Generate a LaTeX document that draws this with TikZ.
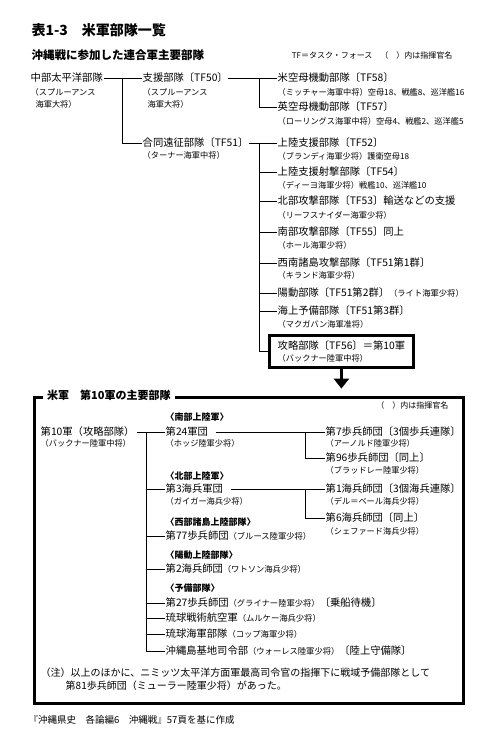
\documentclass[tikz,border=0pt]{standalone}
\usepackage{fontspec}
\setmainfont{Noto Sans CJK JP}
\usetikzlibrary{arrows.meta,positioning,fit,calc}

\newcommand{\cmdrtext}[1]{{\fontsize{8.3}{10}\selectfont #1}}

\begin{document}
\begin{tikzpicture}[
    x=1pt, y=-1pt,
    >=Stealth,
    unit/.style={anchor=west, inner sep=0.5pt, font=\fontsize{10.3}{12}\selectfont},
    cmdr/.style={anchor=west, inner sep=0.5pt, align=left, font=\fontsize{8.2}{12}\selectfont},
    grp/.style={anchor=west, inner sep=0.5pt, font=\fontsize{9}{11}\selectfont\bfseries},
    note/.style={anchor=west, inner sep=0.5pt, font=\fontsize{10}{12}\selectfont},
    ln/.style={line width=0.7pt},
    frame/.style={line width=3pt}
]
\useasboundingbox (0,0) rectangle (495,744);
\fill[white] (0,0) rectangle (495,744);

% ---- Headings ----
\node[anchor=west, font=\fontsize{14}{16}\selectfont\bfseries] (title) at (28,30) {表1-3　米軍部隊一覧};
\node[anchor=west, font=\fontsize{11.5}{13}\selectfont\bfseries] (subtitle) at (28,55) {沖縄戦に参加した連合軍主要部隊};
\node[anchor=east, font=\fontsize{8}{10}\selectfont] (tfnote) at (456,55) {TF＝タスク・フォース　（　）内は指揮官名};

% ---- Allied forces (absolute positions, px) ----
\node[unit] (cpac) at (30,78) {中部太平洋部隊};
\node[cmdr, anchor=north west] (cpacc) at (30,87.5) {（スプルーアンス\\\hspace{0.6em}海軍大将）};
\node[unit] (tf50) at (142,78) {支援部隊〔TF50〕};
\node[cmdr, anchor=north west] (tf50c) at (142,87.5) {（スプルーアンス\\\hspace{0.6em}海軍大将）};
\node[unit] (tf51) at (142,143) {合同遠征部隊〔TF51〕};
\node[cmdr] (tf51c) at (142,155) {（ターナー海軍中将）};

\node[unit] (tf58) at (277,78)  {米空母機動部隊〔TF58〕};
\node[cmdr] (tf58c) at (277,92) {（ミッチャー海軍中将）空母18、戦艦8、巡洋艦16};
\node[unit] (tf57) at (277,107) {英空母機動部隊〔TF57〕};
\node[cmdr] (tf57c) at (277,121) {（ローリングス海軍中将）空母4、戦艦2、巡洋艦5};
\node[unit] (tf52) at (277,143) {上陸支援部隊〔TF52〕};
\node[cmdr] (tf52c) at (277,156) {（ブランディ海軍少将）護衛空母18};
\node[unit] (tf54) at (277,172) {上陸支援射撃部隊〔TF54〕};
\node[cmdr] (tf54c) at (277,185) {（ディーヨ海軍少将）戦艦10、巡洋艦10};
\node[unit] (tf53) at (277,201) {北部攻撃部隊〔TF53〕輸送などの支援};
\node[cmdr] (tf53c) at (277,215) {（リーフスナイダー海軍少将）};
\node[unit] (tf55) at (277,232) {南部攻撃部隊〔TF55〕同上};
\node[cmdr] (tf55c) at (277,245) {（ホール海軍少将）};
\node[unit] (tf51a) at (277,263) {西南諸島攻撃部隊〔TF51第1群〕};
\node[cmdr] (tf51ac) at (277,275) {（キランド海軍少将）};
\node[unit] (tf51b) at (277,293) {陽動部隊〔TF51第2群〕\cmdrtext{（ライト海軍少将）}};
\node[unit] (tf51c) at (277,311) {海上予備部隊〔TF51第3群〕};
\node[cmdr] (tf51cc) at (277,324) {（マクガバン海軍准将）};
\node[unit] (tf56) at (277,346) {攻略部隊〔TF56〕＝第10軍};
\node[cmdr] (tf56c) at (277,358) {（バックナー陸軍中将）};
\node[draw, frame, fit=(tf56)(tf56c), inner xsep=8pt, inner ysep=4.5pt] (tf56box) {};

% ---- Allied connectors ----
\coordinate (jcpac) at (122,78);
\coordinate (j50) at (259,78);
\coordinate (j51) at (259,143);
\draw[ln] (cpac.east) -- (tf50.west);
\draw[ln] (jcpac) |- (tf51.west);
\draw[ln] (tf50.east) -- (tf58.west);
\draw[ln] (j50) |- (tf57.west);
\draw[ln] (tf51.east) -- (tf52.west);
\foreach \n in {tf54,tf53,tf55,tf51a,tf51b,tf51c}
    \draw[ln] (j51) |- (\n.west);
\draw[ln] (j51) |- (tf56box.west);

% ---- Arrow down to 10th Army ----
\coordinate (arrtip) at ($(tf56box.south)+(0,20)$);
\draw[frame, -{Triangle[width=15pt,length=10pt]}] (tf56box.south) -- (arrtip);

% ---- 10th Army frame ----
\node[draw, frame, anchor=north west, inner sep=0pt, minimum width=429pt, minimum height=306pt] (usbox) at (32.5,395.5) {};
\node[anchor=west, fill=white, inner xsep=4pt, font=\fontsize{11}{13}\selectfont\bfseries] (ustitle) at (43,395.5) {米軍　第10軍の主要部隊};
\node[anchor=east, font=\fontsize{8}{10}\selectfont] (usnote) at (452,405) {（　）内は指揮官名};

\node[unit] (tenth) at (40,432) {第10軍（攻略部隊）};
\node[cmdr] (tenthc) at (40,443) {（バックナー陸軍中将）};

\node[grp]  (gsouth) at (165,417) {〈南部上陸軍〉};
\node[unit] (c24)    at (165,432) {第24軍団};
\node[cmdr] (c24c)   at (165,443) {（ホッジ陸軍少将）};
\node[grp]  (gnorth) at (165,476) {〈北部上陸軍〉};
\node[unit] (c3m)    at (165,489) {第3海兵軍団};
\node[cmdr] (c3mc)   at (165,501) {（ガイガー海兵少将）};
\node[grp]  (gwest)  at (165,522) {〈西部諸島上陸部隊〉};
\node[unit] (d77)    at (165,536) {第77歩兵師団\cmdrtext{（ブルース陸軍少将）}};
\node[grp]  (gfeint) at (165,555) {〈陽動上陸部隊〉};
\node[unit] (m2)     at (165,569) {第2海兵師団\cmdrtext{（ワトソン海兵少将）}};
\node[grp]  (gres)   at (165,588) {〈予備部隊〉};
\node[unit] (d27)    at (165,603) {第27歩兵師団\cmdrtext{（グライナー陸軍少将）}〔乗船待機〕};
\node[unit] (tac)    at (165,618) {琉球戦術航空軍\cmdrtext{（ムルケー海兵少将）}};
\node[unit] (nav)    at (165,634) {琉球海軍部隊\cmdrtext{（コップ海軍少将）}};
\node[unit] (base)   at (165,651) {沖縄島基地司令部\cmdrtext{（ウォーレス陸軍少将）}〔陸上守備隊〕};

\node[unit] (d7)   at (325,432) {第7歩兵師団〔3個歩兵連隊〕};
\node[cmdr] (d7c)  at (325,443) {（アーノルド陸軍少将）};
\node[unit] (d96)  at (325,458) {第96歩兵師団〔同上〕};
\node[cmdr] (d96c) at (325,470) {（ブラッドレー陸軍少将）};
\node[unit] (m1)   at (325,489) {第1海兵師団〔3個海兵連隊〕};
\node[cmdr] (m1c)  at (325,501) {（デル＝ベール海兵少将）};
\node[unit] (m6)   at (325,518) {第6海兵師団〔同上〕};
\node[cmdr] (m6c)  at (325,531) {（シェファード海兵少将）};

% ---- 10th Army connectors ----
\coordinate (j10) at (146,432);
\coordinate (j24) at (305,432);
\coordinate (j3)  at (305,489);
\draw[ln] ([xshift=2pt]tenth.east) -- (c24.west);
\foreach \n in {c3m,d77,m2,d27,tac,nav,base}
    \draw[ln] (j10) |- (\n.west);
\draw[ln] ([xshift=7pt]c24.east) -- (d7.west);
\draw[ln] (j24) |- (d96.west);
\draw[ln] ([xshift=7pt]c3m.east) -- (m1.west);
\draw[ln] (j3) |- (m6.west);

% ---- Notes ----
\node[note] (note1) at (40,673) {（注）以上のほかに、ニミッツ太平洋方面軍最高司令官の指揮下に戦域予備部隊として};
\node[note] (note2) at (65,686) {第81歩兵師団（ミューラー陸軍少将）があった。};
\node[note, font=\fontsize{9.5}{12}\selectfont] (source) at (28,720) {『沖縄県史　各論編6　沖縄戦』57頁を基に作成};

\end{tikzpicture}
\end{document}
